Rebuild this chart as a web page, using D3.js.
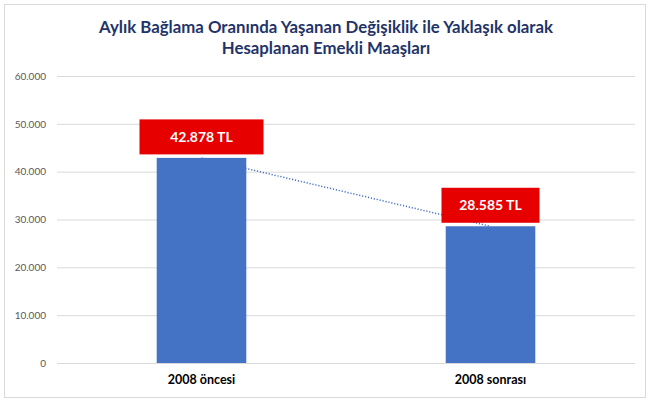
<!DOCTYPE html>
<html><head><meta charset="utf-8">
<script src="https://cdn.jsdelivr.net/npm/d3@7"></script>
<style>
html,body{margin:0;padding:0;background:#fff;}
svg{display:block;}
</style></head>
<body>
<svg id="chart" width="650" height="405"></svg>
<script>
const titleLines = ["Aylık Bağlama Oranında Yaşanan Değişiklik ile Yaklaşık olarak", "Hesaplanan Emekli Maaşları"];
const categories = ["2008 öncesi", "2008 sonrası"];
const values = [42878, 28585];
const valueLabels = ["42.878 TL", "28.585 TL"];
const yTicks = [0, 10000, 20000, 30000, 40000, 50000, 60000];

const svg = d3.select("#chart");
const W = 650, H = 405;
const m = {left: 57, right: 15, top: 76, bottom: 42};
const font = "Lato, 'Open Sans', sans-serif";

svg.append("rect").attr("x", 4.5).attr("y", 4.5).attr("width", 641).attr("height", 393)
  .attr("fill", "#fff").attr("stroke", "#d9d9d9").attr("stroke-width", 1);

svg.append("g").selectAll("text").data(titleLines).join("text")
  .attr("x", 326).attr("y", (d, i) => 33 + i * 21)
  .attr("text-anchor", "middle").attr("font-family", font).attr("font-weight", "bold")
  .attr("font-size", 16.8).attr("fill", "#1f3469").text(d => d);

const x = d3.scaleBand().domain(categories).range([m.left, W - m.right]).paddingInner(0.69).paddingOuter(0.345);
const y = d3.scaleLinear().domain([0, 60000]).range([H - m.bottom, m.top]);

const fmt = d3.formatLocale({decimal: ",", thousands: ".", grouping: [3], currency: ["", ""]}).format(",");

const yAxis = d3.axisLeft(y).tickValues(yTicks).tickSize(-(W - m.right - m.left)).tickFormat(fmt).tickPadding(11);
const gy = svg.append("g").attr("transform", `translate(${m.left},0)`).call(yAxis);
gy.select(".domain").remove();
gy.selectAll(".tick line").attr("stroke", "#d9d9d9").attr("stroke-width", 1);
gy.selectAll(".tick text").attr("font-family", font).attr("font-size", 10).attr("fill", "#595959");

svg.append("g").selectAll("rect").data(values).join("rect")
  .attr("x", (d, i) => x(categories[i])).attr("width", x.bandwidth())
  .attr("y", d => y(d)).attr("height", d => y(0) - y(d)).attr("fill", "#4472c4");

// trend line through bar tops
const line = d3.line().x((d, i) => x(categories[i]) + x.bandwidth() / 2).y(d => y(d));
svg.append("path").datum(values).attr("d", line).attr("fill", "none")
  .attr("stroke", "#4472c4").attr("stroke-width", 1.5).attr("stroke-dasharray", "1.2,1.8");

const xAxis = d3.axisBottom(x).tickSize(0).tickPadding(12);
const gx = svg.append("g").attr("transform", `translate(0,${y(0)})`).call(xAxis);
gx.select(".domain").remove();
gx.selectAll(".tick text").attr("font-family", font).attr("font-weight", "bold").attr("font-size", 12.5).attr("fill", "#000");

// value labels
const lbl = svg.append("g").selectAll("g").data(values).join("g")
  .attr("transform", (d, i) => `translate(${x(categories[i]) + x.bandwidth() / 2},${y(d) - 21})`);
lbl.append("rect").attr("x", (d, i) => i === 0 ? -62 : -49).attr("width", (d, i) => i === 0 ? 124 : 98)
  .attr("y", -17.5).attr("height", 35).attr("fill", "#e60000");
lbl.append("text").attr("text-anchor", "middle").attr("dy", "0.35em")
  .attr("font-family", font).attr("font-weight", "bold").attr("font-size", 14).attr("fill", "#fff")
  .text((d, i) => valueLabels[i]);
</script>
</body></html>
